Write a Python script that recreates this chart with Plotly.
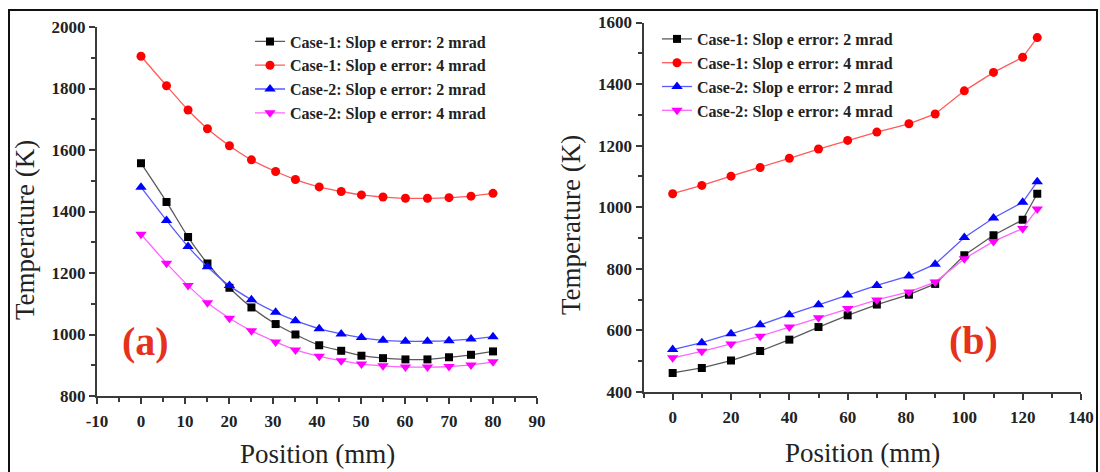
import plotly.graph_objects as go

W, H = 1100, 472

# ---- Panel (a): temperature along the position, 17 stations ----
pos_a = [0, 5.8, 10.7, 15.1, 20.1, 25.1, 30.6, 35.1, 40.5, 45.5, 50.1, 55, 60.1, 65.1, 70, 75, 80]
a_case1_2mrad = [1557, 1431, 1317, 1231, 1152, 1088, 1034, 1000, 965, 947, 931, 923, 919, 919, 926, 934, 945]
a_case1_4mrad = [1905, 1809, 1730, 1669, 1614, 1568, 1530, 1504, 1480, 1465, 1454, 1447, 1443, 1443, 1445, 1450, 1459]
a_case2_2mrad = [1479, 1371, 1286, 1220, 1159, 1113, 1072, 1045, 1019, 1002, 990, 981, 978, 978, 980, 985, 993]
a_case2_4mrad = [1326, 1232, 1159, 1103, 1053, 1012, 976, 950, 929, 915, 904, 898, 894, 894, 896, 901, 911]

# ---- Panel (b): temperature along the position, 14 stations ----
pos_b = [0, 10, 20, 30, 40, 50, 60, 70, 81, 90, 100, 110, 120, 125]
b_case1_2mrad = [462, 478, 502, 533, 570, 611, 649, 684, 716, 751, 844, 909, 959, 1044]
b_case1_4mrad = [1044, 1071, 1101, 1129, 1159, 1189, 1217, 1244, 1271, 1303, 1378, 1438, 1487, 1551]
b_case2_2mrad = [538, 560, 589, 618, 651, 683, 715, 746, 777, 815, 902, 965, 1016, 1083]
b_case2_4mrad = [511, 532, 556, 581, 611, 641, 671, 699, 725, 757, 833, 889, 931, 994]

series_names = [
    "Case-1: Slop e error: 2 mrad",
    "Case-1: Slop e error: 4 mrad",
    "Case-2: Slop e error: 2 mrad",
    "Case-2: Slop e error: 4 mrad",
]

xticks_a = [-10, 0, 10, 20, 30, 40, 50, 60, 70, 80, 90]
xticklabels_a = ["-10", "0", "10", "20", "30", "40", "50", "60", "70", "80", "90"]
yticks_a = [800, 1000, 1200, 1400, 1600, 1800, 2000]
xticks_b = [0, 20, 40, 60, 80, 100, 120, 140]
yticks_b = [400, 600, 800, 1000, 1200, 1400, 1600]

marker_colors = ["#000000", "#ff0000", "#0000ff", "#ff00ff"]
line_colors = ["#5a5a5a", "#ff5a5a", "#5a5aff", "#ff66ff"]
symbols = ["square", "circle", "triangle-up", "triangle-down"]
marker_sizes = [8, 9, 10, 10]

SERIF = "Times New Roman, Liberation Serif, Tinos, serif"


def px_x(px):
    return px / W


def px_y(py):
    return 1 - py / H


fig = go.Figure()

for i, ys in enumerate([a_case1_2mrad, a_case1_4mrad, a_case2_2mrad, a_case2_4mrad]):
    fig.add_trace(go.Scatter(
        x=pos_a, y=ys, name=series_names[i], mode="lines+markers",
        line=dict(color=line_colors[i], width=1.3, shape="spline", smoothing=0.6),
        marker=dict(color=marker_colors[i], symbol=symbols[i], size=marker_sizes[i]),
        xaxis="x", yaxis="y", legend="legend",
    ))

for i, ys in enumerate([b_case1_2mrad, b_case1_4mrad, b_case2_2mrad, b_case2_4mrad]):
    fig.add_trace(go.Scatter(
        x=pos_b, y=ys, name=series_names[i], mode="lines+markers",
        line=dict(color=line_colors[i], width=1.3),
        marker=dict(color=marker_colors[i], symbol=symbols[i], size=marker_sizes[i]),
        xaxis="x2", yaxis="y2", legend="legend2",
    ))

tick_font = dict(family=SERIF, size=17, color="#222222", weight=700)
axis_common = dict(
    showline=True, linewidth=2, linecolor="#3a3a3a", showgrid=False, zeroline=False,
    ticks="outside", ticklen=6, tickwidth=2, tickcolor="#3a3a3a", tickfont=tick_font,
    automargin=False,
)
minor_common = dict(ticks="outside", ticklen=4, tickwidth=1.5, tickcolor="#3a3a3a", showgrid=False)

legend_common = dict(
    xanchor="left", yanchor="top", bgcolor="rgba(0,0,0,0)", tracegroupgap=0,
    font=dict(family=SERIF, size=16, color="#222222", weight=700), itemwidth=30,
)

fig.update_layout(
    template="none",
    width=W, height=H, margin=dict(l=0, r=0, t=0, b=0, autoexpand=False),
    paper_bgcolor="white", plot_bgcolor="white",
    xaxis=dict(domain=[px_x(97), px_x(537)], range=[-10, 90], anchor="y",
               tickmode="array", tickvals=xticks_a, ticktext=xticklabels_a,
               ticklabelstandoff=3,
               minor=dict(dtick=5, tick0=-10, **minor_common), **axis_common),
    yaxis=dict(domain=[px_y(396), px_y(27)], range=[800, 2000], anchor="x",
               tickmode="array", tickvals=yticks_a,
               minor=dict(dtick=100, tick0=800, **minor_common), **axis_common),
    xaxis2=dict(domain=[px_x(643.5), px_x(1081)], range=[-10, 140], anchor="y2",
                tickmode="array", tickvals=xticks_b, ticklabelstandoff=3,
                minor=dict(dtick=10, tick0=0, **minor_common), **axis_common),
    yaxis2=dict(domain=[px_y(392), px_y(22.5)], range=[400, 1600], anchor="x2",
                tickmode="array", tickvals=yticks_b,
                minor=dict(dtick=100, tick0=400, **minor_common), **axis_common),
    legend=dict(x=px_x(250), y=px_y(24.5), **legend_common),
    legend2=dict(x=px_x(657), y=px_y(22), **legend_common),
    showlegend=True,
)

title_font = dict(family=SERIF, size=27, color="#222222")
centered = dict(xref="paper", yref="paper", showarrow=False,
                xanchor="center", yanchor="middle", font=title_font)
annotations = [
    dict(text="Temperature (K)", textangle=-90, x=px_x(25), y=px_y(230), **centered),
    dict(text="Temperature (K)", textangle=-90, x=px_x(571), y=px_y(225), **centered),
    dict(text="Position (mm)", x=px_x(317), y=px_y(454), **centered),
    dict(text="Position (mm)", x=px_x(862), y=px_y(453), **centered),
    dict(text="(a)", x=1.1, y=976, xref="x", yref="y", showarrow=False,
         font=dict(family=SERIF, size=40, color="#e5321c", weight=700)),
    dict(text="(b)", x=103, y=566, xref="x2", yref="y2", showarrow=False,
         font=dict(family=SERIF, size=40, color="#e5321c", weight=700)),
]
fig.update_layout(annotations=annotations)

# Outer frame around both panels
fig.add_shape(type="rect", xref="paper", yref="paper",
              x0=px_x(9), x1=px_x(1097), y0=-0.1, y1=px_y(10),
              line=dict(color="#111111", width=2), fillcolor="rgba(0,0,0,0)", layer="above")

fig.write_html("out.html")
